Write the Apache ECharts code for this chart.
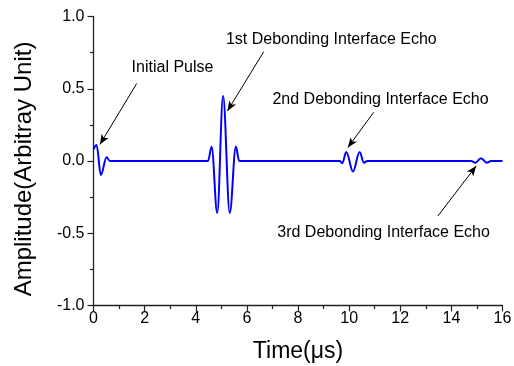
<!DOCTYPE html>
<html>
<head>
<meta charset="utf-8">
<script src="https://cdn.jsdelivr.net/npm/echarts@6/dist/echarts.min.js"></script>
<style>
  html, body { margin: 0; padding: 0; background: #fff; }
  #chart { width: 514px; height: 366px; }
</style>
</head>
<body>
<div id="chart"></div>
<script>
// Ultrasonic A-scan: turning points of the received waveform (time in µs, amplitude in arbitrary units)
const timeUs = [
  0, 0.12, 0.29, 0.51, 0.64,
  4.48, 4.62, 4.84, 5.07, 5.33, 5.57, 5.70,
  9.63, 9.73, 9.89, 10.15, 10.41, 10.58, 10.71,
  14.77, 14.94, 15.16, 15.38, 15.55, 16.0
];
const amplitude = [
  0.08, 0.11, -0.097, 0.026, 0,
  0, 0.099, -0.36, 0.45, -0.36, 0.10, 0,
  0, -0.015, 0.062, -0.073, 0.062, -0.012, 0,
  0, -0.012, 0.019, -0.012, 0, 0
];

// Echo annotations: label text, label anchor (left-middle) and arrow from/to, in data units
const noteText = [
  'Initial Pulse',
  '1st Debonding Interface Echo',
  '2nd Debonding Interface Echo',
  '3rd Debonding Interface Echo'
];
const noteAnchor = [[1.49, 0.648], [5.18, 0.839], [7.0, 0.424], [7.19, -0.498]];
const arrowFrom = [[1.69, 0.536], [6.66, 0.757], [10.96, 0.337], [13.47, -0.381]];
const arrowTo = [[0.25, 0.115], [5.24, 0.346], [9.95, 0.093], [14.97, -0.035]];

const FONT = '"Liberation Sans", Arial, sans-serif';

const chart = echarts.init(document.getElementById('chart'), null, { renderer: 'canvas' });

const axisCommon = {
  axisLine: { show: true, onZero: false, lineStyle: { color: '#222', width: 1.3 } },
  axisTick: { show: true, inside: false, length: 6, lineStyle: { color: '#222', width: 1.2 } },
  minorTick: { show: true, splitNumber: 2, length: 3.5, lineStyle: { color: '#222', width: 1.2 } },
  splitLine: { show: false },
  nameLocation: 'middle'
};

chart.setOption({
  animation: false,
  backgroundColor: '#fff',
  grid: {
    left: 93.5, right: 11.5, top: 16.5, bottom: 60.5,
    containLabel: false,
    outerBoundsMode: 'none'
  },
  xAxis: Object.assign({}, axisCommon, {
    type: 'value',
    min: 0, max: 16, interval: 2,
    name: 'Time(μs)',
    nameGap: 35,
    nameTextStyle: { fontFamily: FONT, fontSize: 23, color: '#000' },
    axisLabel: { margin: 5, fontFamily: FONT, fontSize: 16, color: '#000' }
  }),
  yAxis: Object.assign({}, axisCommon, {
    type: 'value',
    min: -1, max: 1, interval: 0.5,
    name: 'Amplitude(Arbitray Unit)',
    nameGap: 57,
    nameTextStyle: { fontFamily: FONT, fontSize: 24, color: '#000', padding: [0, 16, 0, 0] },
    axisLabel: {
      margin: 9, fontFamily: FONT, fontSize: 16, color: '#000',
      formatter: v => v.toFixed(1)
    }
  }),
  series: [{
    type: 'line',
    data: timeUs.map((t, i) => [t, amplitude[i]]),
    showSymbol: false,
    symbol: 'none',
    smooth: 0.36,
    smoothMonotone: 'x',
    lineStyle: { color: '#0000ff', width: 2 },
    silent: true,
    markLine: {
      silent: true,
      symbol: ['none', 'arrow'],
      symbolSize: [6, 10],
      label: { show: false },
      lineStyle: { color: '#000', width: 1, type: 'solid' },
      data: arrowFrom.map((p, i) => [{ coord: p }, { coord: arrowTo[i] }])
    },
    markPoint: {
      silent: true,
      symbol: 'circle',
      symbolSize: 0,
      data: noteText.map((txt, i) => ({
        coord: noteAnchor[i],
        label: {
          show: true,
          formatter: txt,
          position: [0, 0],
          align: 'left',
          verticalAlign: 'middle',
          fontFamily: FONT,
          fontSize: 16,
          color: '#000'
        }
      }))
    }
  }]
});
</script>
</body>
</html>
